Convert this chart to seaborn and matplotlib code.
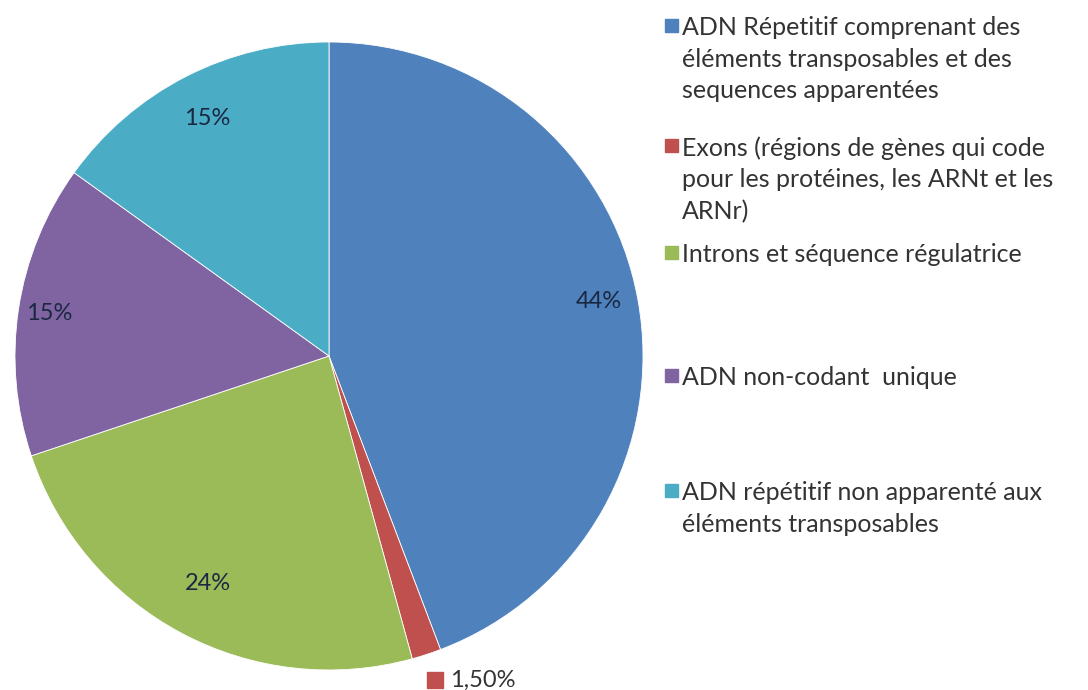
import numpy as np
import matplotlib
matplotlib.use("Agg")
from matplotlib import pyplot as plt
from matplotlib.patches import Rectangle
import seaborn as sns

# data
categories = [
    "ADN Répetitif comprenant des\néléments transposables et des\nsequences apparentées",
    "Exons (régions de gènes qui code\npour les protéines, les ARNt et les\nARNr)",
    "Introns et séquence régulatrice",
    "ADN non-codant  unique",
    "ADN répétitif non apparenté aux\néléments transposables",
]
values = [44, 1.5, 24, 15, 15]
value_labels = ["44%", "1,50%", "24%", "15%", "15%"]
colors = ["#4F81BD", "#C0504D", "#9BBB59", "#8064A2", "#4BACC6"]

sns.set_theme(style="white")
plt.rcParams['font.family'] = ['Lato', 'DejaVu Sans']

fig = plt.figure(figsize=(10.88, 6.90), dpi=100)
ax = fig.add_axes([15 / 1088, 20 / 690, 628 / 1088, 628 / 690])

wedges, _ = ax.pie(values, colors=colors, startangle=90, counterclock=False,
                   radius=1, wedgeprops=dict(edgecolor="white", linewidth=0.6))
ax.set_xlim(-1, 1)
ax.set_ylim(-1, 1)
ax.set_aspect("equal")
ax.axis("off")

text_col = "#1a2842"
label_r = [0.875, 1.13, 0.82, 0.90, 0.85]
angle_shift = [1, 6, 0, 0, 0]
for i, w in enumerate(wedges):
    ang = np.deg2rad((w.theta1 + w.theta2) / 2 + angle_shift[i])
    x, y = label_r[i] * np.cos(ang), label_r[i] * np.sin(ang)
    if i == 1:
        # small slice: label outside with a colour key
        ax.text(x + 0.03, y, value_labels[i], ha="center", va="center",
                fontsize=17, color="#333333")
        ax.plot([x - 0.125], [y], marker="s", markersize=12, color=colors[i],
                clip_on=False)
    else:
        ax.text(x, y, value_labels[i], ha="center", va="center",
                fontsize=17, color=text_col)

# legend drawn like the spreadsheet one: key aligned to first line
first_baselines = [33, 153, 260, 383, 498]
for lab, col, yb in zip(categories, colors, first_baselines):
    top_px = yb - 17
    fig.text(682 / 1088, 1 - top_px / 690, lab, ha="left", va="top",
             fontsize=18, color="#333333", linespacing=1.46)
    fig.patches.append(Rectangle((665 / 1088, 1 - (yb - 1) / 690), 13 / 1088, 13 / 690,
                                 transform=fig.transFigure, color=col))

fig.savefig("out.png", dpi=100)
